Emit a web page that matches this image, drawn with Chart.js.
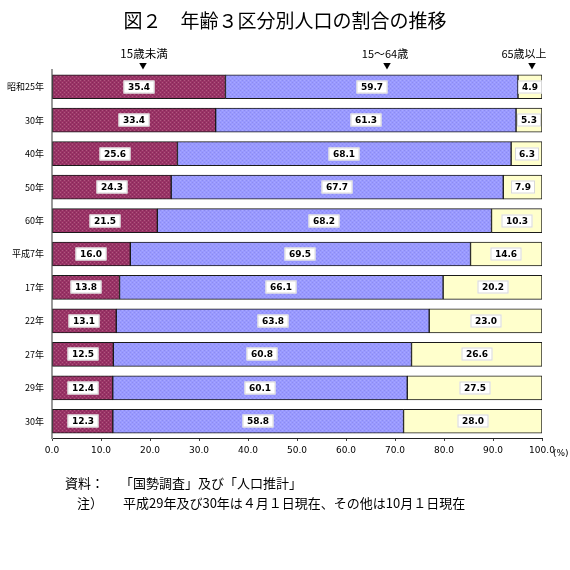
<!DOCTYPE html>
<html lang="ja">
<head>
<meta charset="UTF-8">
<title>図２ 年齢３区分別人口の割合の推移</title>
<script src="https://cdn.jsdelivr.net/npm/chart.js"></script>
<style>
  body { margin: 0; background: #fff; font-family: "Noto Sans CJK JP", sans-serif; }
  #wrap { position: relative; width: 570px; height: 570px; overflow: hidden; }
  #chart { position: absolute; left: 0; top: 0; }
  .txt { position: absolute; white-space: nowrap; color: #000; line-height: 1; }
  .ctr { transform: translateX(-50%); }
</style>
</head>
<body>
<div id="wrap">
  <canvas id="chart" width="570" height="570"></canvas>
  <div class="txt ctr" style="left:285px; top:10px; font-size:19px;">図２　年齢３区分別人口の割合の推移</div>

  <div class="txt ctr" style="left:144px; top:48px; font-size:11.5px;">15歳未満</div>
  <div class="txt ctr" style="left:143px; top:62px; font-size:8px;">▼</div>
  <div class="txt ctr" style="left:385px; top:48px; font-size:11px;">15～64歳</div>
  <div class="txt ctr" style="left:387px; top:62px; font-size:8px;">▼</div>
  <div class="txt ctr" style="left:524px; top:48px; font-size:11px;">65歳以上</div>
  <div class="txt ctr" style="left:532px; top:62px; font-size:8px;">▼</div>

  <div class="txt" style="left:553px; top:449px; font-size:9px; font-family:'DejaVu Sans';">(%)</div>

  <div class="txt" style="left:65px; top:476px; font-size:13px;">資料：</div>
  <div class="txt" style="left:120px; top:476px; font-size:13px;">「国勢調査」及び「人口推計」</div>
  <div class="txt" style="left:77px; top:496px; font-size:13px;">注）</div>
  <div class="txt" style="left:123px; top:496px; font-size:13px;">平成29年及び30年は４月１日現在、その他は10月１日現在</div>
</div>

<script>
// data (percent)
const categories = ['昭和25年', '30年', '40年', '50年', '60年', '平成7年', '17年', '22年', '27年', '29年', '30年'];
const under15 = [35.4, 33.4, 25.6, 24.3, 21.5, 16.0, 13.8, 13.1, 12.5, 12.4, 12.3];
const age15to64 = [59.7, 61.3, 68.1, 67.7, 68.2, 69.5, 66.1, 63.8, 60.8, 60.1, 58.8];
const over65 = [4.9, 5.3, 6.3, 7.9, 10.3, 14.6, 20.2, 23.0, 26.6, 27.5, 28.0];
const xTicks = [0, 10, 20, 30, 40, 50, 60, 70, 80, 90, 100];

// 100% stacked: scale each row to its total
const totals = categories.map((c, i) => under15[i] + age15to64[i] + over65[i]);
const share = arr => arr.map((v, i) => v / totals[i] * 100);

// dithered fills like the original
function makePattern(base, dot1, dot2) {
    const c = document.createElement('canvas');
    c.width = 4; c.height = 4;
    const g = c.getContext('2d');
    g.fillStyle = base;
    g.fillRect(0, 0, 4, 4);
    g.fillStyle = dot1;
    g.fillRect(0, 0, 1, 1);
    g.fillRect(2, 2, 1, 1);
    g.fillStyle = dot2;
    g.fillRect(2, 0, 1, 1);
    g.fillRect(0, 2, 1, 1);
    return g.createPattern(c, 'repeat');
}
const maroon = makePattern('#993366', '#b0587f', '#862a58');
const lavender = makePattern('#9999ff', '#a8a8ff', '#8c8cf0');

// white boxed value labels
const valueLabels = {
    id: 'valueLabels',
    afterDatasetsDraw(chart) {
        const ctx = chart.ctx;
        ctx.save();
        ctx.font = 'bold 9px "DejaVu Sans"';
        ctx.textAlign = 'center';
        ctx.textBaseline = 'middle';
        chart.data.datasets.forEach((ds, di) => {
            const meta = chart.getDatasetMeta(di);
            meta.data.forEach((bar, i) => {
                const p = bar.getProps(['x', 'y', 'base'], true);
                const cx = Math.round((p.x + p.base) / 2);
                const cy = Math.round(p.y);
                const txt = ds.raw[i].toFixed(1);
                const w = Math.ceil(ctx.measureText(txt).width) + 8;
                const h = 13;
                ctx.fillStyle = '#fff';
                ctx.fillRect(cx - w / 2, cy - h / 2, w, h);
                ctx.strokeStyle = '#d8d8d8';
                ctx.lineWidth = 1;
                ctx.strokeRect(cx - w / 2 + 0.5, cy - h / 2 + 0.5, w - 1, h - 1);
                ctx.fillStyle = '#000';
                ctx.fillText(txt, cx, cy + 0.5);
            });
        });
        ctx.restore();
    }
};

new Chart(document.getElementById('chart'), {
    type: 'bar',
    data: {
        labels: categories,
        datasets: [
            { label: '15歳未満', raw: under15, data: share(under15), backgroundColor: maroon },
            { label: '15～64歳', raw: age15to64, data: share(age15to64), backgroundColor: lavender },
            { label: '65歳以上', raw: over65, data: share(over65), backgroundColor: '#ffffcc' }
        ].map(d => Object.assign(d, { borderColor: '#1a1a1a', borderWidth: 1, borderSkipped: false, barThickness: 24 }))
    },
    options: {
        indexAxis: 'y',
        responsive: false,
        animation: false,
        layout: { padding: { top: 70, right: 28, bottom: 112, left: 0 } },
        plugins: { legend: { display: false }, tooltip: { enabled: false } },
        scales: {
            x: {
                stacked: true,
                min: 0,
                max: 100,
                afterFit: s => { s.height = 20; },
                afterBuildTicks: s => { s.ticks = xTicks.map(v => ({ value: v })); },
                grid: { drawOnChartArea: false, tickLength: 3, color: '#444' },
                border: { color: '#222', width: 1 },
                ticks: {
                    padding: 4,
                    color: '#000',
                    font: { family: 'DejaVu Sans', size: 9 },
                    maxRotation: 0,
                    callback: v => Number(v).toFixed(1)
                }
            },
            y: {
                stacked: true,
                afterFit: s => { s.width = 52; },
                grid: { display: false, drawTicks: false, tickLength: 0 },
                border: { color: '#999', width: 2 },
                ticks: {
                    padding: 8,
                    color: '#000',
                    font: { family: 'Noto Sans CJK JP', size: 9 }
                }
            }
        }
    },
    plugins: [valueLabels]
});
</script>
</body>
</html>
